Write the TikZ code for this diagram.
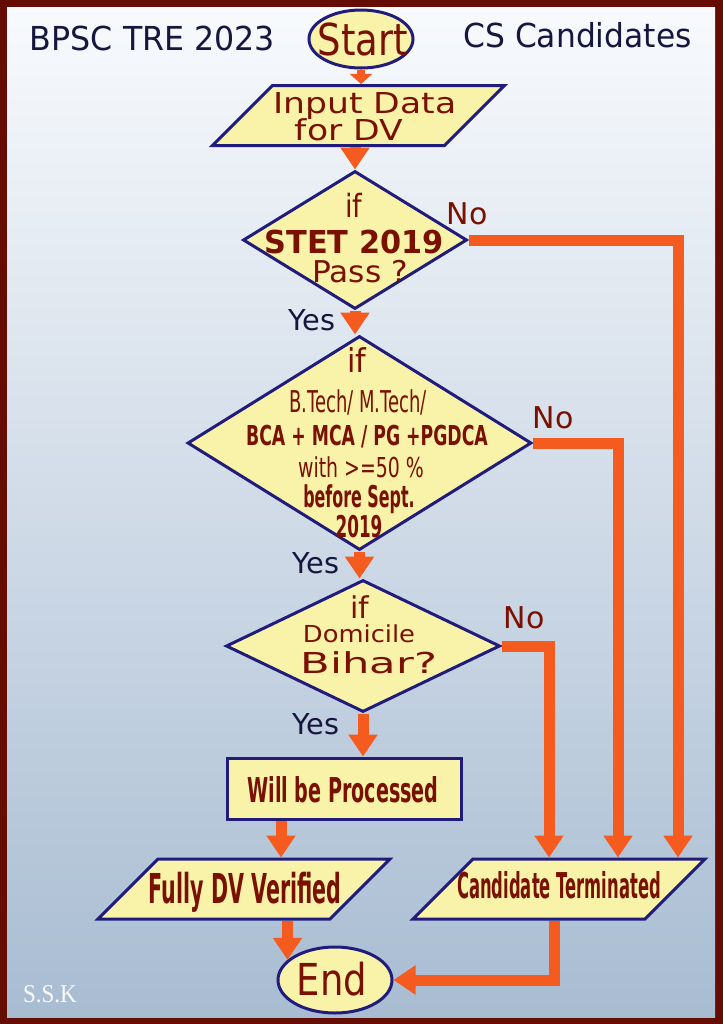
\documentclass[tikz,border=0pt]{standalone}
\usepackage{fontspec}
\setmainfont{DejaVu Sans}
\newfontfamily\sskfont{Liberation Serif}
\usepackage{graphicx}
\usetikzlibrary{shapes.geometric, arrows.meta, positioning, calc}
\definecolor{framered}{HTML}{650D02}
\definecolor{bgtop}{HTML}{F8FAFD}
\definecolor{bgbottom}{HTML}{A8BCD2}
\definecolor{boxfill}{HTML}{F8F3A8}
\definecolor{boxline}{HTML}{211C7C}
\definecolor{redtext}{HTML}{7A1000}
\definecolor{navytext}{HTML}{16163E}
\definecolor{arrowred}{HTML}{F55B1E}
% size, x-stretch, text
\newcommand{\hs}[3]{\fontsize{#1}{#1}\selectfont\scalebox{#2}[1]{#3}}
\tikzset{
	shapenode/.style={
			draw=boxline,
			line width=1.5pt,
			fill=boxfill,
			inner sep=0pt
		},
	ifnode/.style={
			shapenode,
			diamond
		},
	endsnode/.style={
			shapenode,
			ellipse
		},
	ionode/.style={
			shapenode,
			trapezium,
			trapezium left angle=45,
			trapezium right angle=135,
			text width=86pt,
			text height=30pt,
			text depth=0pt
		},
	procnode/.style={
			shapenode,
			rectangle,
			minimum width=117pt,
			minimum height=30.5pt
		},
	boxtext/.style={
			anchor=base,
			inner sep=0pt,
			text=redtext
		},
	sidetext/.style={
			anchor=base,
			inner sep=0pt,
			text=navytext
		},
	flow/.style={
			draw=arrowred,
			line width=5.5pt,
			-{Triangle[width=14pt,length=11pt]}
		},
	branch/.style={
			flow,
			line join=miter
		}
}
\begin{document}
\begin{tikzpicture}[x=0.5pt,y=-0.5pt]

  % frame and background
  \fill[framered] (0,0) rectangle (723,1024);
  \shade[top color=bgtop, bottom color=bgbottom] (7,7) rectangle (715,1017);
  \useasboundingbox (0,0) rectangle (723,1024);

  % shapes
  \node[endsnode, minimum width=52pt, minimum height=29pt] (start) at (361,39) {};
  \node[ionode] (input) at (358.5,115.5) {};
  \node[ifnode, minimum width=112pt, minimum height=69pt] (d1) at (355,240) {};
  \node[ifnode, minimum width=172pt, minimum height=107pt] (d2) at (359.5,443) {};
  \node[ifnode, minimum width=137pt, minimum height=66pt] (d3) at (363,646) {};
  \node[procnode] (proc) at (344,788.5) {};
  \node[ionode] (fully) at (244,889) {};
  \node[ionode] (term) at (559,889) {};
  \node[endsnode, minimum width=57pt, minimum height=33pt] (end) at (335,980) {};

  % texts
  \node[sidetext] (ttl) at (152.5,50) {\hs{16.5}{0.96}{BPSC TRE 2023}};
  \node[sidetext] (ttr) at (577.5,47) {\hs{16.5}{0.95}{CS Candidates}};
  \node[boxtext] (startt) at (363,55) {\hs{22}{0.84}{Start}};
  \node[boxtext] (input1) at (365,113) {\hs{14.4}{1.2}{Input Data}};
  \node[boxtext] (input2) at (349,140) {\hs{14.4}{1.2}{for DV}};

  \node[boxtext] (d1a) at (354,217) {\hs{16}{0.85}{if}};
  \node[boxtext] (d1b) at (354,253) {\bfseries\hs{15.8}{0.96}{STET 2019}};
  \node[boxtext] (d1c) at (360,282) {\hs{15}{1.04}{Pass ?}};

  \node[boxtext] (d2a) at (357,372) {\hs{16.4}{0.92}{if}};
  \node[boxtext] (d2b) at (358,412) {\hs{15}{0.6}{B.Tech/ M.Tech/}};
  \node[boxtext] (d2c) at (367,445) {\bfseries\hs{13.7}{0.63}{BCA + MCA / PG +PGDCA}};
  \node[boxtext] (d2d) at (361,477) {\hs{13.7}{0.69}{with >=50 \%}};
  \node[boxtext] (d2e) at (359,507) {\bfseries\hs{15}{0.53}{before Sept.}};
  \node[boxtext] (d2f) at (359,537) {\bfseries\hs{15}{0.56}{2019}};

  \node[boxtext] (d3a) at (360,618) {\hs{15}{1}{if}};
  \node[boxtext] (d3b) at (359,642) {\hs{11.7}{1.1}{Domicile}};
  \node[boxtext] (d3c) at (369,673) {\hs{14.4}{1.5}{Bihar?}};

  \node[boxtext] (proct) at (343,802) {\bfseries\hs{17.1}{0.56}{Will be Processed}};
  \node[boxtext] (fullyt) at (245,903) {\bfseries\hs{20.6}{0.5}{Fully DV Verified}};
  \node[boxtext] (termt) at (559,898) {\bfseries\hs{17.8}{0.46}{Candidate Terminated}};
  \node[boxtext] (endt) at (332,995) {\hs{22}{0.84}{End}};

  \node[boxtext] (no1) at (467,224) {\hs{15}{1}{No}};
  \node[boxtext] (no2) at (553,428) {\hs{15}{1}{No}};
  \node[boxtext] (no3) at (524,628) {\hs{15}{1}{No}};
  \node[sidetext] (yes1) at (312,330) {\hs{14.4}{1}{Yes}};
  \node[sidetext] (yes2) at (316,573) {\hs{14.4}{1}{Yes}};
  \node[sidetext] (yes3) at (316,734) {\hs{14.4}{1}{Yes}};

  \node[anchor=base, inner sep=0pt, text=white!92!bgbottom] (ssk) at (50,1002) {\sskfont\hs{12.8}{0.9}{S.S.K}};

  % connectors
  \draw[flow, line width=4pt, -{Triangle[width=11pt,length=5pt]}] (start.south) -- (start.south |- input.north);
  \draw[flow] (input.south -| d1.north) -- (d1.north);
  \draw[flow] (d1.south) -- (d1.south |- d2.north);
  \draw[flow] (d2.south) -- (d2.south |- d3.north);
  \draw[flow] (d3.south) -- (d3.south |- proc.north);
  \draw[flow] ([xshift=-31.5pt]proc.south) -- ([xshift=-31.5pt]proc.south |- fully.north);
  \draw[flow] (fully.south -| end.157) -- (end.157);

  \draw[branch] (d1.east) -| ([xshift=59.5pt]term.north);
  \draw[branch] (d2.east) -| ([xshift=29.5pt]term.north);
  \draw[branch] (d3.east) -| ([xshift=-5pt]term.north);
  \draw[branch] ([xshift=-2.5pt]term.south) |- (end.east);

\end{tikzpicture}
\end{document}
